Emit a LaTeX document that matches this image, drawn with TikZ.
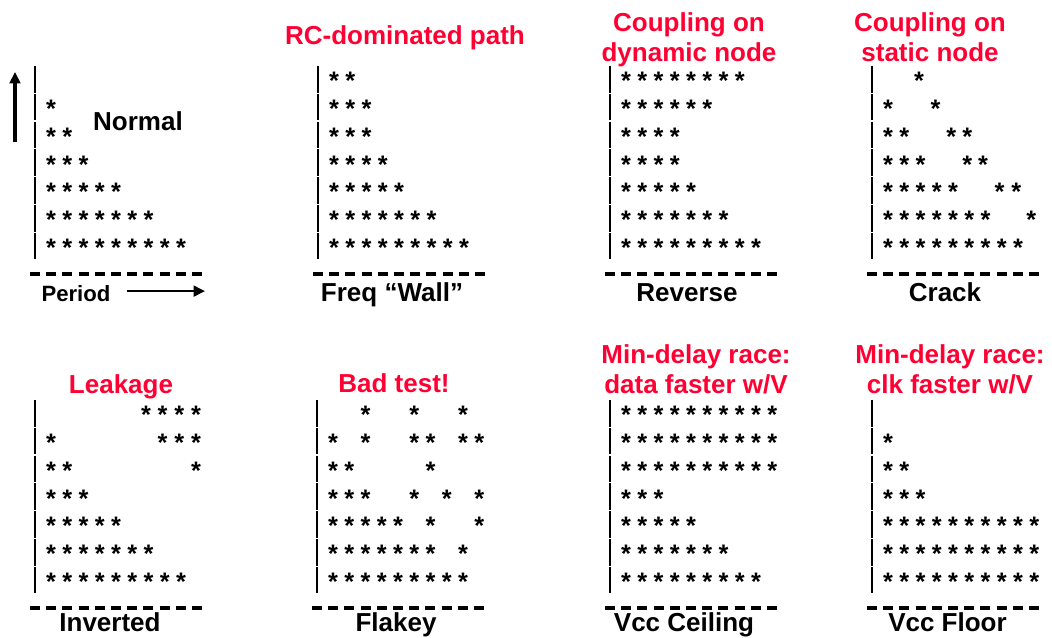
\documentclass[tikz,border=0pt]{standalone}
\usepackage{fontspec}
\setmainfont{Liberation Sans}
\usetikzlibrary{arrows.meta,positioning}
\definecolor{fault}{HTML}{FF0033}

\newcommand{\colw}{16.25}
\newcommand{\rowh}{27.8}

\tikzset{
  pass/.style={font=\fontsize{19}{20}\selectfont\bfseries, inner sep=0pt, anchor=base},
  caption/.style={font=\fontsize{19.5}{22.5}\selectfont\bfseries, inner sep=0pt, anchor=base},
  cause/.style={caption, text=fault, align=center},
  vbar/.style={line width=1.6pt},
  hbar/.style={line width=2.5pt, dash pattern=on 7.5pt off 4.65pt},
  axisarrow/.style={line width=2.7pt, -{Triangle[length=8.5pt,width=8pt]}}
}

% one row of passing points: prefix, row, columns
\newcommand{\passrow}[3]{%
  \foreach \c [count=\k] in {#3}
    \node[pass] (#1-#2-\k) at ({16+\c*\colw},{-#2*\rowh-14.6}) {*};
}
% voltage ticks on the left, period axis underneath
\newcommand{\shmooframe}{%
  \foreach \r in {0,...,6}
    \draw[vbar] (0,{9-\r*\rowh}) -- (0,{9-(\r+1)*\rowh+1.2});
  \draw[hbar] (-5,-199) -- (167,-199);
}

\begin{document}
\begin{tikzpicture}[x=0.75pt,y=0.75pt]
  \useasboundingbox (0,0) rectangle (1052,637);

  % normal
  \begin{scope}[shift={(35,562)}]
    \shmooframe
    \passrow{nrm}{1}{0}
    \passrow{nrm}{2}{0,1}
    \passrow{nrm}{3}{0,...,2}
    \passrow{nrm}{4}{0,...,4}
    \passrow{nrm}{5}{0,...,6}
    \passrow{nrm}{6}{0,...,8}
    \node[caption] (nrm-label) at (103,-55) {Normal};
    \node[caption, font=\fontsize{16.6}{20}\selectfont\bfseries] (period) at (41,-226.7) {Period};
  \end{scope}
  \coordinate (vtail) at (15,495);
  \coordinate (vtip) at (15,565);
  \coordinate (ptip) at (205,344);
  \draw[axisarrow] (vtail) -- (vtip);
  \draw[axisarrow, line width=1.9pt] ([xshift=12pt,yshift=2pt]period.east) -- ([yshift=2pt]period.east -| ptip);

  % frequency wall
  \begin{scope}[shift={(318,562)}]
    \shmooframe
    \passrow{frq}{0}{0,1}
    \passrow{frq}{1}{0,...,2}
    \passrow{frq}{2}{0,...,2}
    \passrow{frq}{3}{0,...,3}
    \passrow{frq}{4}{0,...,4}
    \passrow{frq}{5}{0,...,6}
    \passrow{frq}{6}{0,...,8}
    \node[cause] (frq-cause) at (87,30) {RC-dominated path};
    \node[caption] (frq-label) at (74,-226.7) {Freq “Wall”};
  \end{scope}

  % reverse
  \begin{scope}[shift={(610,562)}]
    \shmooframe
    \passrow{rev}{0}{0,...,7}
    \passrow{rev}{1}{0,...,5}
    \passrow{rev}{2}{0,...,3}
    \passrow{rev}{3}{0,...,3}
    \passrow{rev}{4}{0,...,4}
    \passrow{rev}{5}{0,...,6}
    \passrow{rev}{6}{0,...,8}
    \node[cause] (rev-cause) at (79,13.3) {Coupling on\\dynamic node};
    \node[caption] (rev-label) at (77,-226.7) {Reverse};
  \end{scope}

  % crack
  \begin{scope}[shift={(872,562)}]
    \shmooframe
    \passrow{crk}{0}{1.91}
    \passrow{crk}{1}{0,2.93}
    \passrow{crk}{2}{0,1,3.9,4.88}
    \passrow{crk}{3}{0,1,2,4.88,5.85}
    \passrow{crk}{4}{0,1,2,3,4,6.87,7.9}
    \passrow{crk}{5}{0,1,2,3,4,5,6,8.82}
    \passrow{crk}{6}{0,...,8}
    \node[cause] (crk-cause) at (58,13.3) {Coupling on\\static node};
    \node[caption] (crk-label) at (73,-226.7) {Crack};
  \end{scope}

  % inverted
  \begin{scope}[shift={(35,228)}]
    \shmooframe
    \passrow{inv}{0}{5.85,6.87,7.9,8.92}
    \passrow{inv}{1}{0,6.87,7.9,8.92}
    \passrow{inv}{2}{0,1,8.92}
    \passrow{inv}{3}{0,...,2}
    \passrow{inv}{4}{0,...,4}
    \passrow{inv}{5}{0,...,6}
    \passrow{inv}{6}{0,...,8}
    \node[cause] (inv-cause) at (86,15.7) {Leakage};
    \node[caption] (inv-label) at (75,-222) {Inverted};
  \end{scope}

  % flakey
  \begin{scope}[shift={(317,228)}]
    \shmooframe
    \passrow{flk}{0}{2,5,8}
    \passrow{flk}{1}{0,2,5,6,8,9}
    \passrow{flk}{2}{0,1,6}
    \passrow{flk}{3}{0,1,2,5,7,9}
    \passrow{flk}{4}{0,1,2,3,4,6,9}
    \passrow{flk}{5}{0,1,2,3,4,5,6,8}
    \passrow{flk}{6}{0,...,8}
    \node[cause] (flk-cause) at (77,16.3) {Bad test!};
    \node[caption] (flk-label) at (79,-222) {Flakey};
  \end{scope}

  % vcc ceiling
  \begin{scope}[shift={(610,228)}]
    \shmooframe
    \passrow{ceil}{0}{0,...,9}
    \passrow{ceil}{1}{0,...,9}
    \passrow{ceil}{2}{0,...,9}
    \passrow{ceil}{3}{0,...,2}
    \passrow{ceil}{4}{0,...,4}
    \passrow{ceil}{5}{0,...,6}
    \passrow{ceil}{6}{0,...,8}
    \node[cause] (ceil-cause) at (86,15.7) {Min-delay race:\\data faster w/V};
    \node[caption] (ceil-label) at (74,-222) {Vcc Ceiling};
  \end{scope}

  % vcc floor
  \begin{scope}[shift={(872,228)}]
    \shmooframe
    \passrow{flr}{1}{0}
    \passrow{flr}{2}{0,1}
    \passrow{flr}{3}{0,...,2}
    \passrow{flr}{4}{0,...,9}
    \passrow{flr}{5}{0,...,9}
    \passrow{flr}{6}{0,...,9}
    \node[cause] (flr-cause) at (78,15.7) {Min-delay race:\\clk faster w/V};
    \node[caption] (flr-label) at (75.5,-222) {Vcc Floor};
  \end{scope}
\end{tikzpicture}
\end{document}
